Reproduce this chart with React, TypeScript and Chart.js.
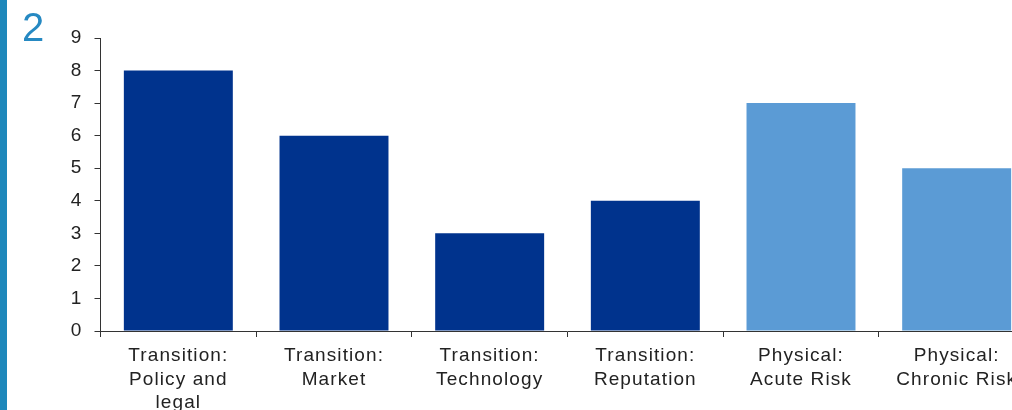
import React, { useEffect, useRef } from "react";
import { Chart, registerables } from "chart.js";

Chart.register(...registerables);

const categories: string[][] = [
  ["Transition:", "Policy and", "legal"],
  ["Transition:", "Market"],
  ["Transition:", "Technology"],
  ["Transition:", "Reputation"],
  ["Physical:", "Acute Risk"],
  ["Physical:", "Chronic Risk"],
];
const values: number[] = [8, 6, 3, 4, 7, 5];
const barColors: string[] = ["#00338D", "#00338D", "#00338D", "#00338D", "#5B9BD5", "#5B9BD5"];
const yMin = 0;
const yMax = 9;
const pageLabel = "2";

const FONT = "'Liberation Sans', Arial, sans-serif";

const spacingPlugin = {
  id: "letterSpacing",
  beforeLayout(chart: any) {
    chart.ctx.letterSpacing = "1.1px";
  },
  beforeDraw(chart: any) {
    chart.ctx.letterSpacing = "1.1px";
  },
};

export default function App() {
  const ref = useRef<HTMLCanvasElement>(null);

  useEffect(() => {
    if (!ref.current) return;
    const chart = new Chart(ref.current, {
      type: "bar",
      data: {
        labels: categories,
        datasets: [
          {
            data: values,
            backgroundColor: barColors,
            borderWidth: 0,
            barPercentage: 0.7,
            categoryPercentage: 1,
          },
        ],
      },
      plugins: [spacingPlugin],
      options: {
        animation: false,
        responsive: false,
        devicePixelRatio: 1,
        layout: { padding: { left: 0, top: 38, right: 5.5, bottom: 0 } },
        plugins: { legend: { display: false }, tooltip: { enabled: false }, title: { display: false } },
        scales: {
          x: {
            type: "category",
            afterFit: (scale: any) => {
              scale.height = 79;
            },
            border: { display: true, color: "#333", width: 1 },
            grid: {
              display: true,
              offset: true,
              drawOnChartArea: false,
              tickLength: 6,
              color: "#333",
              tickColor: "#333",
            },
            ticks: {
              autoSkip: false,
              maxRotation: 0,
              minRotation: 0,
              padding: 7,
              color: "#222",
              font: { family: FONT, size: 19, lineHeight: 1.24 },
            },
          },
          y: {
            min: yMin,
            max: yMax,
            afterFit: (scale: any) => {
              scale.width = 100.5;
            },
            border: { display: true, color: "#333", width: 1 },
            grid: {
              display: true,
              drawOnChartArea: false,
              tickLength: 6,
              color: "#333",
              tickColor: "#333",
            },
            ticks: {
              stepSize: 1,
              padding: 12,
              color: "#222",
              font: { family: FONT, size: 19 },
            },
          },
        },
      },
    });
    return () => chart.destroy();
  }, []);

  return (
    <div
      style={{
        position: "fixed",
        left: 0,
        top: 0,
        width: 1012,
        height: 410,
        overflow: "hidden",
        background: "#fff",
      }}
    >
      <canvas
        ref={ref}
        width={1040}
        height={410}
        style={{ position: "absolute", left: 0, top: 0, width: 1040, height: 410 }}
      />
      <div
        style={{
          position: "absolute",
          left: 0,
          top: 0,
          width: 7,
          height: 410,
          background: "#1E88BB",
        }}
      />
      <div
        style={{
          position: "absolute",
          left: 22,
          top: 7,
          fontFamily: FONT,
          fontSize: 40,
          lineHeight: "40px",
          color: "#2689C2",
        }}
      >
        {pageLabel}
      </div>
    </div>
  );
}
